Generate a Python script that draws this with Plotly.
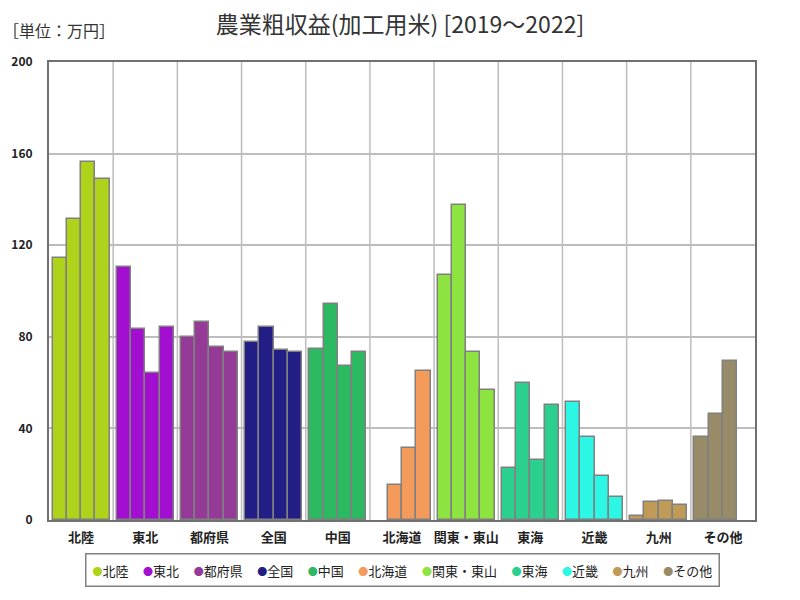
import plotly.graph_objects as go

regions = ["北陸", "東北", "都府県", "全国", "中国", "北海道", "関東・東山", "東海", "近畿", "九州", "その他"]
years = ["2019", "2020", "2021", "2022"]
values = {
    "北陸": [114.4, 131.5, 156.4, 149.0],
    "東北": [110.6, 83.3, 64.1, 84.4],
    "都府県": [79.9, 86.3, 75.4, 73.3],
    "全国": [77.6, 84.2, 74.1, 73.3],
    "中国": [74.7, 94.2, 67.3, 73.3],
    "北海道": [None, 15.3, 31.4, 65.0],
    "関東・東山": [107.1, 137.4, 73.3, 56.7],
    "東海": [22.8, 59.9, 26.2, 50.1],
    "近畿": [51.5, 36.2, 19.2, 10.0],
    "九州": [1.7, 8.0, 8.4, 6.5],
    "その他": [36.3, 46.4, 69.5, None],
}
colors = ["#afd21a", "#a30fd0", "#953a96", "#221e86", "#2db862", "#f49b5c",
          "#8de33f", "#2bd08e", "#2bf7e4", "#c09b58", "#988b67"]
y_ticks = [0, 40, 80, 120, 160, 200]

G = 4.5  # group spacing in bar units
fig = go.Figure()
for i, (r, c) in enumerate(zip(regions, colors)):
    xs = [i * G + 0.25 + j + 0.5 for j in range(len(years))]
    fig.add_trace(go.Bar(
        x=xs, y=values[r], width=1.0, name=r, showlegend=False,
        marker=dict(color=c, line=dict(color="#808080", width=1.5)),
        customdata=years, hovertemplate=r + " %{customdata}: %{y}<extra></extra>",
    ))

# vertical grid lines at group boundaries
for i in range(1, len(regions)):
    fig.add_shape(type="line", xref="x", yref="paper", x0=i * G, x1=i * G, y0=0, y1=1,
                  line=dict(color="#bdbdbd", width=1.5), layer="below")

font_jp = "Noto Sans CJK JP"
fig.update_layout(
    width=800, height=600,
    margin=dict(l=49, r=45, t=62, b=80, autoexpand=False),
    paper_bgcolor="white", plot_bgcolor="white",
    font=dict(family=font_jp, color="#222"),
    title=dict(text="農業粗収益(加工用米) [2019～2022]", x=0.5, xanchor="center",
               y=0.958, yanchor="middle", font=dict(size=23, color="#333")),
    showlegend=False,
    bargap=0,
)
fig.add_annotation(text="［単位：万円］", xref="paper", yref="paper", x=-0.068, y=1.07,
                   xanchor="left", yanchor="middle", showarrow=False,
                   font=dict(size=16, color="#333"))

# legend box built as text
legend_text = "     ".join(
    f"<span style='color:{c};font-size:10px'>●</span>{r}" for r, c in zip(regions, colors)
)
fig.add_annotation(text=legend_text, xref="paper", yref="paper", x=0.5, y=-0.109,
                   xanchor="center", yanchor="middle", showarrow=False,
                   font=dict(size=13, color="#222"), bordercolor="#808080",
                   borderwidth=1.5, borderpad=6, bgcolor="white")

fig.update_xaxes(
    range=[0, len(regions) * G],
    tickvals=[i * G + G / 2 for i in range(len(regions))], ticktext=regions,
    showgrid=False, zeroline=False, showline=True, linecolor="#707070", linewidth=2,
    mirror=True, ticks="", tickfont=dict(size=13, color="#222", weight="bold"),
    ticklabelstandoff=4,
)
fig.update_yaxes(
    range=[0, 200], tickvals=y_ticks, showgrid=True, gridcolor="#bdbdbd", gridwidth=1.5,
    zeroline=False, showline=True, linecolor="#707070", linewidth=2, mirror=True,
    ticks="", tickfont=dict(size=12, color="#222", weight="bold"),
    ticklabelstandoff=12,
)
fig.write_html("out.html", config={"displayModeBar": False},
               post_script="document.body.style.margin='0';")
